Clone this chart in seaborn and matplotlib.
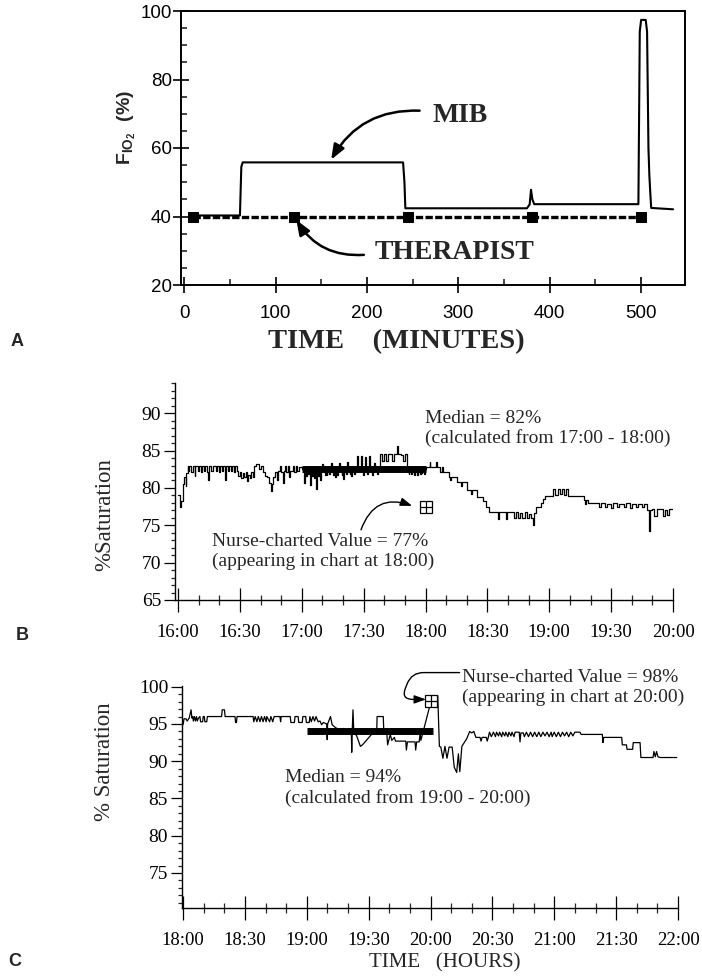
import matplotlib
matplotlib.use("Agg")
import matplotlib.pyplot as plt
import seaborn as sns
from matplotlib.ticker import MultipleLocator

# ---------------- data ----------------
# Panel A : FIO2 (%) against time (minutes)
mib_time = [10, 61, 62.5, 64, 239.5, 241, 242, 375, 378, 379.5, 381, 383,
            497, 498.5, 500, 505, 506.5, 508, 509, 510, 511, 535]
mib_fio2 = [40.3, 40.3, 54.5, 55.8, 55.8, 50.0, 42.4, 42.4, 43.5, 47.8, 45.0, 43.6,
            43.6, 94.0, 97.4, 97.4, 94.0, 60.0, 52.0, 47.0, 42.5, 42.1]
therapist_time = [10, 120, 245, 381, 500]
therapist_fio2 = [40, 40, 40, 40, 40]
a_xticks = [0, 100, 200, 300, 400, 500]
a_yticks = [20, 40, 60, 80, 100]

# Panel B : % saturation, minutes after 16:00
b_time = [0, 0.8, 1.6, 2.4, 3.0, 3.6, 4.0, 4.6, 5.0, 5.5,
          6.5, 7.0, 8.0, 8.3, 9.5, 10.0, 11.0, 11.5, 12.5, 13.0,
          14.0, 14.7, 15.0, 16.0, 17.0, 18.5, 19.0, 20.0, 20.5, 21.5,
          22.0, 22.8, 23.2, 24.0, 24.5, 25.5, 26.0, 27.0, 27.5, 28.5,
          29.0, 30.0, 30.5, 31.5, 32.0, 33.0, 33.5, 34.0, 35.0, 35.5,
          36.5, 37.0, 38.0, 39.0, 40.0, 41.0, 42.0, 43.0, 44.0, 45.0,
          45.5, 46.0, 47.0, 48.0, 48.5, 49.5, 50.0, 51.0, 51.4, 52.0,
          52.5, 53.5, 54.0, 54.5, 55.5, 56.0, 57.0, 57.5, 58.5, 60.0,
          61.0, 61.4, 62.0, 62.3, 63.0, 63.4, 64.0, 64.4, 65.0, 65.3,
          65.8, 66.2, 67.0, 67.4, 68.0, 68.3, 68.8, 69.2, 70.0, 70.5,
          71.2, 71.6, 72.0, 72.4, 73.2, 73.6, 74.0, 74.5, 75.2, 75.6,
          76.0, 76.4, 77.2, 77.6, 78.0, 78.5, 79.3, 79.7, 80.2, 80.6,
          81.3, 81.7, 82.0, 82.5, 83.2, 83.6, 84.0, 84.4, 85.3, 85.7,
          86.6, 87.1, 88.5, 89.0, 89.6, 90.0, 90.5, 91.0, 91.8, 92.2,
          92.6, 93.1, 94.0, 94.4, 95.0, 95.5, 96.5, 96.9, 97.9, 99.0,
          100.0, 101.0, 102.0, 103.5, 104.5, 106.0, 106.4, 108.0, 109.0, 110.0,
          110.9, 111.8, 112.2, 113.0, 113.4, 114.5, 114.9, 116.0, 116.4, 117.2,
          117.6, 118.0, 118.4, 119.2, 119.6, 120.0, 122.0, 122.4, 125.0, 125.4,
          127.0, 128.0, 128.5, 131.3, 132.0, 132.5, 135.1, 137.0, 137.5, 139.9,
          142.0, 142.5, 145.0, 148.0, 149.5, 151.0, 155.0, 155.4, 159.0, 159.4,
          163.0, 164.0, 165.0, 166.0, 167.0, 168.0, 169.0, 170.0, 171.0, 172.3,
          172.8, 173.7, 175.9, 177.0, 178.0, 182.0, 183.0, 184.0, 185.0, 186.0,
          187.0, 188.0, 189.0, 196.6, 197.5, 198.0, 199.0, 204.0, 205.0, 207.0,
          208.0, 210.0, 211.0, 213.0, 214.0, 216.0, 217.0, 219.0, 220.0, 222.0,
          223.0, 225.0, 226.0, 227.5, 228.5, 229.0, 230.0, 231.0, 232.0, 235.0,
          236.0, 237.0, 238.0, 240.0]
b_sat = [79.0, 77.5, 78.2, 80.5, 81.5, 80.2, 82.0, 82.9, 82.3, 82.9,
         82.2, 82.9, 81.6, 82.9, 82.3, 82.9, 82.2, 82.9, 82.3, 82.9,
         82.2, 81.1, 82.9, 82.3, 82.9, 82.3, 83.0, 82.2, 82.9, 82.3,
         82.9, 81.1, 82.9, 82.3, 82.9, 82.3, 82.9, 82.2, 82.9, 82.3,
         81.6, 82.2, 81.3, 82.0, 81.4, 82.2, 80.9, 81.7, 81.3, 82.2,
         81.5, 83.0, 83.2, 82.6, 83.0, 82.2, 81.6, 81.4, 80.6, 79.6,
         80.5, 81.5, 82.2, 81.0, 82.3, 83.0, 82.2, 80.7, 82.3, 83.0,
         82.2, 82.9, 81.4, 82.3, 82.9, 82.2, 83.0, 82.3, 82.8, 82.5,
         80.6, 82.4, 81.6, 82.6, 81.9, 82.6, 80.4, 82.5, 81.6, 82.6,
         81.3, 82.7, 79.8, 82.5, 81.6, 82.6, 81.0, 82.7, 83.2, 82.5,
         81.7, 82.6, 81.8, 82.6, 81.9, 82.6, 83.3, 82.5, 81.8, 82.6,
         81.5, 82.6, 81.8, 82.6, 83.4, 82.6, 81.8, 82.6, 81.2, 82.6,
         81.9, 82.6, 83.5, 82.5, 81.9, 82.6, 81.6, 82.6, 81.9, 82.6,
         84.3, 82.6, 84.3, 82.6, 81.8, 82.6, 84.2, 82.6, 81.9, 82.6,
         84.3, 82.6, 81.8, 82.6, 83.4, 82.6, 81.9, 82.6, 84.5, 83.6,
         84.5, 83.6, 84.5, 83.6, 84.5, 85.6, 84.5, 84.4, 83.6, 84.5,
         82.6, 81.9, 82.6, 81.9, 82.6, 81.8, 82.6, 81.8, 82.6, 81.9,
         82.6, 82.0, 82.6, 81.9, 82.6, 82.8, 83.5, 82.8, 83.5, 82.8,
         82.2, 82.8, 82.2, 81.5, 81.0, 81.5, 80.8, 80.3, 80.8, 79.7,
         79.2, 79.7, 78.8, 78.3, 77.4, 76.8, 75.9, 76.8, 75.9, 76.8,
         76.0, 76.8, 76.0, 76.6, 76.0, 76.8, 76.0, 76.5, 76.0, 75.0,
         76.7, 77.5, 78.0, 78.5, 78.9, 79.8, 79.0, 79.8, 79.2, 79.8,
         79.0, 79.8, 78.9, 78.4, 77.9, 78.4, 78.0, 77.5, 78.0, 77.4,
         77.9, 77.3, 78.0, 77.4, 77.9, 77.4, 78.0, 77.3, 77.9, 77.4,
         77.9, 77.4, 77.8, 77.0, 74.3, 77.0, 77.2, 76.3, 77.2, 76.3,
         77.1, 76.4, 77.2, 77.2]
b_median_span = [60, 120]
b_median = 82.6
nurse_b_time = [120]
nurse_b_sat = [77.5]
b_yticks = [65, 70, 75, 80, 85, 90]
b_xticks = [0, 30, 60, 90, 120, 150, 180, 210, 240]
b_xlabels = ["16:00", "16:30", "17:00", "17:30", "18:00", "18:30", "19:00", "19:30", "20:00"]

# Panel C : % saturation, minutes after 18:00
c_time = [0, 0.5, 1.5, 2.0, 3.0, 3.9, 4.3, 4.7, 5.0, 5.5,
          6.0, 6.5, 6.9, 7.5, 8.2, 8.5, 9.5, 9.8, 10.3, 10.6,
          11.5, 11.8, 18.7, 19.0, 20.1, 20.4, 25.2, 25.5, 25.9, 26.2,
          34.0, 34.3, 35.0, 35.8, 36.5, 37.3, 38.0, 38.8, 39.5, 40.3,
          40.6, 42.0, 42.6, 43.5, 44.2, 47.0, 47.3, 47.6, 52.0, 52.3,
          54.0, 54.3, 55.8, 56.1, 57.8, 58.1, 59.5, 59.8, 61.2, 61.5,
          62.2, 63.0, 63.8, 64.5, 65.5, 66.4, 67.2, 68.0, 69.7, 69.9,
          70.1, 71.5, 72.3, 74.0, 76.0, 78.0, 80.0, 81.6, 81.8, 82.0,
          82.4, 82.8, 84.2, 86.0, 87.0, 91.7, 93.9, 94.1, 97.1, 97.4,
          98.8, 99.2, 100.5, 101.2, 102.5, 103.0, 108.0, 108.3, 108.8, 112.5,
          112.8, 113.3, 114.5, 115.0, 115.3, 116.0, 119.8, 120.8, 123.5, 124.3,
          125.0, 126.0, 127.0, 128.0, 129.0, 130.5, 131.5, 132.7, 133.5, 134.2,
          135.2, 137.5, 139.0, 140.0, 141.0, 142.0, 144.0, 144.5, 145.0, 147.0,
          147.5, 148.0, 148.6, 149.5, 150.5, 151.5, 152.0, 153.0, 153.5, 154.5,
          155.0, 156.0, 156.5, 157.5, 158.0, 159.0, 159.5, 160.5, 161.0, 163.0,
          163.4, 163.8, 165.0, 165.5, 166.5, 167.5, 168.5, 169.5, 170.5, 171.5,
          172.5, 173.5, 174.5, 175.5, 176.5, 177.5, 178.5, 179.0, 180.0, 181.0,
          182.0, 183.0, 184.0, 185.0, 186.0, 187.0, 188.0, 189.0, 190.0, 192.5,
          193.0, 203.3, 203.6, 204.0, 212.7, 213.0, 215.0, 215.3, 218.0, 218.3,
          221.6, 222.0, 227.9, 228.3, 229.0, 229.6, 230.3, 231.3, 239.4]
c_sat = [94.9, 95.7, 95.7, 95.4, 95.8, 96.9, 95.8, 96.0, 95.4, 96.0,
         95.4, 96.0, 95.4, 95.8, 96.0, 95.3, 95.3, 96.0, 96.0, 95.3,
         95.3, 96.0, 96.0, 96.9, 96.9, 96.0, 96.0, 95.2, 95.2, 96.0,
         96.0, 95.3, 96.0, 95.3, 96.0, 95.3, 96.0, 95.3, 96.0, 95.3,
         96.0, 95.3, 96.0, 95.3, 96.0, 96.0, 95.3, 96.0, 96.0, 95.2,
         95.2, 96.0, 96.0, 95.2, 95.2, 96.0, 96.0, 95.2, 95.2, 96.0,
         95.3, 96.0, 95.4, 96.0, 95.3, 95.4, 94.9, 95.2, 95.0, 92.9,
         95.0, 96.0, 94.9, 94.5, 94.2, 94.4, 93.8, 94.0, 91.2, 93.8,
         96.9, 94.0, 93.4, 92.0, 92.2, 93.7, 93.8, 96.0, 96.0, 93.6,
         93.8, 92.2, 93.6, 92.8, 93.2, 92.7, 92.7, 91.5, 92.6, 92.6,
         91.5, 92.6, 92.6, 93.9, 92.8, 93.5, 97.6, 98.8, 98.8, 92.0,
         91.9, 90.4, 92.0, 90.4, 91.9, 91.9, 89.2, 88.5, 91.0, 88.6,
         92.0, 93.0, 94.0, 93.8, 94.0, 93.2, 93.2, 92.7, 93.2, 93.2,
         92.7, 93.2, 93.9, 93.3, 93.9, 93.3, 93.9, 93.4, 93.9, 93.3,
         93.9, 93.4, 93.9, 93.3, 93.9, 93.4, 93.9, 93.3, 93.9, 93.9,
         92.6, 93.8, 93.8, 93.3, 93.9, 93.3, 93.9, 93.3, 93.9, 93.3,
         93.9, 93.3, 93.9, 93.4, 93.9, 93.3, 93.9, 93.3, 93.9, 93.3,
         93.9, 93.3, 93.9, 93.4, 93.9, 93.3, 93.9, 93.4, 93.9, 93.9,
         93.6, 93.6, 92.5, 93.2, 93.2, 92.2, 92.2, 91.6, 91.6, 92.5,
         92.5, 90.5, 90.5, 91.3, 90.6, 91.3, 90.6, 90.5, 90.5]
c_median_span = [60, 121.4]
c_median = 94.1
nurse_c_time = [120.2]
nurse_c_sat = [98.1]
c_yticks = [75, 80, 85, 90, 95, 100]
c_xticks = [0, 30, 60, 90, 120, 150, 180, 210, 240]
c_xlabels = ["18:00", "18:30", "19:00", "19:30", "20:00", "20:30", "21:00", "21:30", "22:00"]

# ---------------- style ----------------
sns.set_style("ticks")
plt.rcParams["font.family"] = ["Liberation Serif", "DejaVu Serif"]
plt.rcParams["mathtext.fontset"] = "custom"
plt.rcParams["mathtext.rm"] = "Liberation Sans:bold"
plt.rcParams["mathtext.it"] = "Liberation Sans:bold"
plt.rcParams["mathtext.bf"] = "Liberation Sans:bold"

W, H = 702, 976
fig = plt.figure(figsize=(W / 100, H / 100), dpi=100)


def px_axes(left, top, right, bottom):
    return fig.add_axes([left / W, 1 - bottom / H, (right - left) / W, (bottom - top) / H])


def px_text(x, y, s, **kw):
    fig.text(x / W, 1 - y / H, s, ha="center", va="center", **kw)


# ---------------- panel A ----------------
axA = px_axes(181, 11, 685, 285)
sns.lineplot(x=mib_time, y=mib_fio2, ax=axA, color="black", lw=1.5,
             sort=False, estimator=None)
sns.lineplot(x=therapist_time, y=therapist_fio2, ax=axA, color="black", lw=2.4,
             linestyle=(0, (2.2, 0.7)), marker="s", markersize=6.5,
             markeredgecolor="black", sort=False, estimator=None)
axA.set_xlim(-3.5, 548)
axA.set_ylim(20, 100)
axA.set_xticks(a_xticks)
axA.set_yticks(a_yticks)
axA.xaxis.set_minor_locator(MultipleLocator(50))
axA.yaxis.set_minor_locator(MultipleLocator(5))
axA.tick_params(which="major", direction="inout", length=11, width=1.2,
                labelsize=13.5, labelfontfamily="Liberation Sans", colors="black")
axA.tick_params(which="minor", direction="in", length=4, width=1.2)
axA.tick_params(axis="x", which="major", pad=9)
axA.tick_params(axis="y", which="major", pad=1)
for sp in axA.spines.values():
    sp.set_linewidth(1.4)
    sp.set_color("black")
axA.set_xlabel("")
axA.set_ylabel("")

axA.text(301.9, 69.4, "MIB", ha="center", va="center", fontsize=20, fontweight="bold")
axA.text(295.5, 29.5, "THERAPIST", ha="center", va="center", fontsize=20, fontweight="bold")
axA.annotate("", xy=(160.8, 56.6), xytext=(257.6, 70.9),
             arrowprops=dict(arrowstyle="-|>,head_length=0.9,head_width=0.35",
                             connectionstyle="arc3,rad=0.3", color="black", lw=1.8,
                             shrinkA=0, shrinkB=0))
axA.annotate("", xy=(122.7, 39.0), xytext=(196.6, 28.8),
             arrowprops=dict(arrowstyle="-|>,head_length=0.9,head_width=0.35",
                             connectionstyle="arc3,rad=-0.3", color="black", lw=1.8,
                             shrinkA=0, shrinkB=0))

px_text(127, 128, r"F$_{\rm IO_2}$  (%)", rotation=90, fontsize=14,
        fontweight="bold", family="Liberation Sans")
px_text(396, 342, "TIME    (MINUTES)", fontsize=20.5, fontweight="bold")
px_text(17, 342, "A", fontsize=13, fontweight="bold", family="Liberation Sans")


def style_sat_axes(ax, xticks, xlabels, yticks):
    for side in ["top", "right"]:
        ax.spines[side].set_visible(False)
    for side in ["left", "bottom"]:
        ax.spines[side].set_linewidth(1.0)
        ax.spines[side].set_color("black")
    ax.set_xticks(xticks)
    ax.set_xticklabels(xlabels)
    ax.set_yticks(yticks)
    ax.xaxis.set_minor_locator(MultipleLocator(10))
    ax.yaxis.set_minor_locator(MultipleLocator(1))
    ax.tick_params(axis="x", which="major", direction="inout", length=17, width=0.9,
                   pad=8.5, labelsize=13.5, colors="black")
    ax.tick_params(axis="x", which="minor", direction="inout", length=7, width=0.9)
    ax.tick_params(axis="y", which="major", direction="out", length=8, width=0.9,
                   pad=2, labelsize=14, colors="black")
    ax.tick_params(axis="y", which="minor", direction="out", length=3, width=0.9)
    ax.set_xlabel("")
    ax.set_ylabel("")


# ---------------- panel B ----------------
axB = px_axes(175, 383, 673, 600)
sns.lineplot(x=b_time, y=b_sat, ax=axB, color="black", lw=0.9, drawstyle="steps-post",
             sort=False, estimator=None)
axB.plot(b_median_span, [b_median, b_median], color="black", lw=5, solid_capstyle="butt")
axB.plot(nurse_b_time, nurse_b_sat, ls="none", marker="s", ms=8, mfc="white",
         mec="black", mew=0.9, zorder=5)
axB.plot(nurse_b_time, nurse_b_sat, ls="none", marker="+", ms=8, mec="black",
         mew=0.9, zorder=6)
axB.set_xlim(-1.5, 240)
axB.set_ylim(65, 94.05)
style_sat_axes(axB, b_xticks, b_xlabels, b_yticks)

axB.text(119.8, 87.96, "Median = 82%\n(calculated from 17:00 - 18:00)",
         ha="left", va="center", fontsize=14, linespacing=1.2)
axB.text(16.5, 71.5, "Nurse-charted Value = 77%\n(appearing in chart at 18:00)",
         ha="left", va="center", fontsize=14, linespacing=1.2)
axB.annotate("", xy=(113.5, 77.6), xytext=(88.7, 74.4),
             arrowprops=dict(arrowstyle="-|>,head_length=0.7,head_width=0.25",
                             connectionstyle="arc3,rad=-0.5", color="black", lw=1.0,
                             shrinkA=0, shrinkB=0))

px_text(105, 515, "%Saturation", rotation=90, fontsize=16.5)
px_text(22, 636, "B", fontsize=13, fontweight="bold", family="Liberation Sans")

# ---------------- panel C ----------------
axC = px_axes(182, 686, 678, 908)
sns.lineplot(x=c_time, y=c_sat, ax=axC, color="black", lw=0.9,
             sort=False, estimator=None)
axC.plot(c_median_span, [c_median, c_median], color="black", lw=5, solid_capstyle="butt")
axC.plot(nurse_c_time, nurse_c_sat, ls="none", marker="s", ms=8, mfc="white",
         mec="black", mew=0.9, zorder=5)
axC.plot(nurse_c_time, nurse_c_sat, ls="none", marker="+", ms=8, mec="black",
         mew=0.9, zorder=6)
axC.set_xlim(-0.5, 240)
axC.set_ylim(70.3, 100.1)
style_sat_axes(axC, c_xticks, c_xlabels, c_yticks)

axC.text(135.3, 99.9, "Nurse-charted Value = 98%\n(appearing in chart at 20:00)",
         ha="left", va="center", fontsize=14, linespacing=1.2)
axC.text(49.5, 86.4, "Median = 94%\n(calculated from 19:00 - 20:00)",
         ha="left", va="center", fontsize=14, linespacing=1.2)
axC.annotate("", xy=(117.8, 98.3), xytext=(134.1, 101.9), annotation_clip=False,
             arrowprops=dict(arrowstyle="-|>,head_length=0.7,head_width=0.25",
                             connectionstyle="arc,angleA=180,angleB=180,armA=48,armB=25,rad=12",
                             color="black", lw=1.0, shrinkA=0, shrinkB=0))

px_text(105, 762, "% Saturation", rotation=90, fontsize=16.5)
px_text(445, 963, "TIME   (HOURS)", fontsize=15)
px_text(15, 962, "C", fontsize=13, fontweight="bold", family="Liberation Sans")

fig.savefig("out.png", dpi=100)
